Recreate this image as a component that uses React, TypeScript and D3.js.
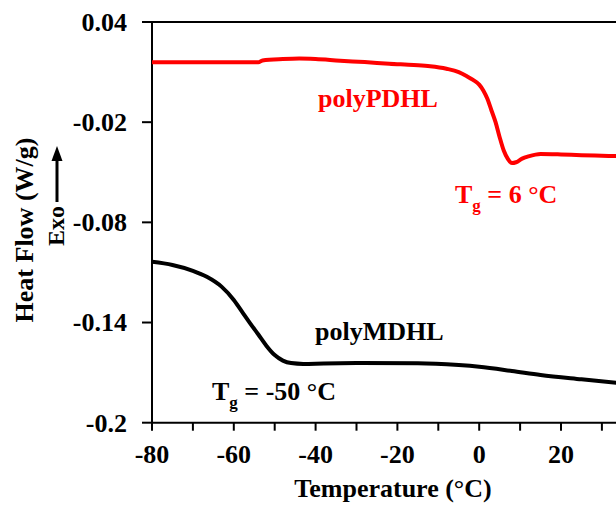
import React, { useRef, useEffect } from 'react';
import * as d3 from 'd3';

// polyPDHL trace (red)
const pdhlTemp = [-80, -54, -53, -48, -44, -40, -34, -28, -22, -16, -12, -8, -5, -3, -1.5, 0, 1, 2, 3, 4, 5, 6, 7, 8, 9, 10.5, 12, 15, 20, 25, 30, 34];
const pdhlFlow = [0.0159, 0.0159, 0.0170, 0.0178, 0.0181, 0.0178, 0.0168, 0.0160, 0.0150, 0.0142, 0.0135, 0.0120, 0.0100, 0.0075, 0.0053, 0.0025, -0.0010, -0.0060, -0.0130, -0.0200, -0.0290, -0.0370, -0.0420, -0.0445, -0.0440, -0.0418, -0.0405, -0.0390, -0.0393, -0.0398, -0.0401, -0.0403];

// polyMDHL trace (black)
const mdhlTemp = [-80, -75, -70, -66.6, -63, -60, -58, -56, -54, -52, -50, -48, -46, -43, -38, -30, -15, -5, 0, 8, 15, 25, 34];
const mdhlFlow = [-0.1036, -0.1055, -0.1090, -0.1126, -0.1185, -0.1265, -0.1335, -0.1405, -0.1472, -0.1540, -0.1595, -0.1628, -0.1643, -0.1648, -0.1645, -0.1643, -0.1644, -0.1655, -0.1665, -0.1690, -0.1714, -0.1740, -0.1762];

const xTicks = [-80, -70, -60, -50, -40, -30, -20, -10, 0, 10, 20, 30, 40];
const xLabels = [-80, -60, -40, -20, 0, 20];
const yTicks = [0.04, -0.02, -0.08, -0.14, -0.2];
const yLabels = ['0.04', '-0.02', '-0.08', '-0.14', '-0.2'];

const FONT = '"Liberation Serif", "Times New Roman", serif';

const App = () => {
  const ref = useRef(null);
  useEffect(() => {
    const svg = d3.select(ref.current);
    svg.selectAll('*').remove();

    const width = 616;
    const height = 507;
    const left = 152, top = 22, bottom = 422.7;

    const x = d3.scaleLinear().domain([-80, 40]).range([left, left + 120 * 4.09]);
    const y = d3.scaleLinear().domain([-0.2, 0.04]).range([bottom, top]);

    svg.attr('width', width).attr('height', height).attr('viewBox', `0 0 ${width} ${height}`);
    svg.style('font-family', FONT).style('font-weight', 'bold');

    // frame: top, left, bottom
    svg.append('line').attr('x1', left).attr('x2', width).attr('y1', top).attr('y2', top).attr('stroke', '#000').attr('stroke-width', 2);
    svg.append('line').attr('x1', left).attr('x2', left).attr('y1', top).attr('y2', bottom).attr('stroke', '#000').attr('stroke-width', 2);
    svg.append('line').attr('x1', left).attr('x2', width).attr('y1', bottom).attr('y2', bottom).attr('stroke', '#000').attr('stroke-width', 2);

    // x ticks
    svg.selectAll('.xt').data(xTicks).join('line').attr('class', 'xt')
      .attr('x1', d => x(d)).attr('x2', d => x(d)).attr('y1', bottom).attr('y2', bottom + 8)
      .attr('stroke', '#000').attr('stroke-width', 2);
    svg.selectAll('.xl').data(xLabels).join('text').attr('class', 'xl')
      .attr('x', d => x(d)).attr('y', 463).attr('text-anchor', 'middle').style('font-size', '26px')
      .text(d => d);

    // y ticks
    svg.selectAll('.yt').data(yTicks).join('line').attr('class', 'yt')
      .attr('x1', left - 10).attr('x2', left).attr('y1', d => y(d)).attr('y2', d => y(d))
      .attr('stroke', '#000').attr('stroke-width', 2);
    svg.selectAll('.yl').data(yTicks).join('text').attr('class', 'yl')
      .attr('x', 127).attr('y', d => y(d)).attr('dy', '0.34em').attr('text-anchor', 'end').style('font-size', '26px')
      .text((d, i) => yLabels[i]);

    // axis titles
    svg.append('text').attr('x', 393).attr('y', 497).attr('text-anchor', 'middle').style('font-size', '26px')
      .text('Temperature (°C)');
    svg.append('text').attr('transform', 'translate(33,230) rotate(-90)').attr('text-anchor', 'middle').style('font-size', '26px')
      .text('Heat Flow (W/g)');
    svg.append('text').attr('transform', 'translate(64,226) rotate(-90)').attr('text-anchor', 'middle').style('font-size', '24px')
      .text('Exo');

    // exo arrow
    svg.append('line').attr('x1', 57).attr('x2', 57).attr('y1', 202).attr('y2', 158).attr('stroke', '#000').attr('stroke-width', 3);
    svg.append('path').attr('d', 'M57,146 L51.5,161 L62.5,161 Z').attr('fill', '#000');

    const line = d3.line().x(d => x(d[0])).y(d => y(d[1])).curve(d3.curveMonotoneX);

    const clip = svg.append('clipPath').attr('id', 'plotclip');
    clip.append('rect').attr('x', left).attr('y', top).attr('width', width - left).attr('height', bottom - top);

    svg.append('path').datum(pdhlTemp.map((t, i) => [t, pdhlFlow[i]]))
      .attr('d', line).attr('fill', 'none').attr('stroke', '#ff0000').attr('stroke-width', 4)
      .attr('clip-path', 'url(#plotclip)');
    svg.append('path').datum(mdhlTemp.map((t, i) => [t, mdhlFlow[i]]))
      .attr('d', line).attr('fill', 'none').attr('stroke', '#000').attr('stroke-width', 4)
      .attr('clip-path', 'url(#plotclip)');

    // annotations
    svg.append('text').attr('x', 318).attr('y', 107).style('font-size', '26px').attr('fill', '#ff0000').text('polyPDHL');
    svg.append('text').attr('x', 315).attr('y', 340).style('font-size', '26px').attr('fill', '#000').text('polyMDHL');

    const tg = (px, py, rest, color) => {
      const t = svg.append('text').attr('x', px).attr('y', py).style('font-size', '26px').attr('fill', color);
      t.append('tspan').text('T');
      t.append('tspan').attr('dy', 8).style('font-size', '17px').text('g');
      t.append('tspan').attr('dy', -8).text(rest);
    };
    tg(455, 203, ' = 6 °C', '#ff0000');
    tg(212, 400, ' = -50 °C', '#000');
  }, []);

  return <svg ref={ref} style={{ position: 'absolute', left: 0, top: 0 }} />;
};

export default App;
